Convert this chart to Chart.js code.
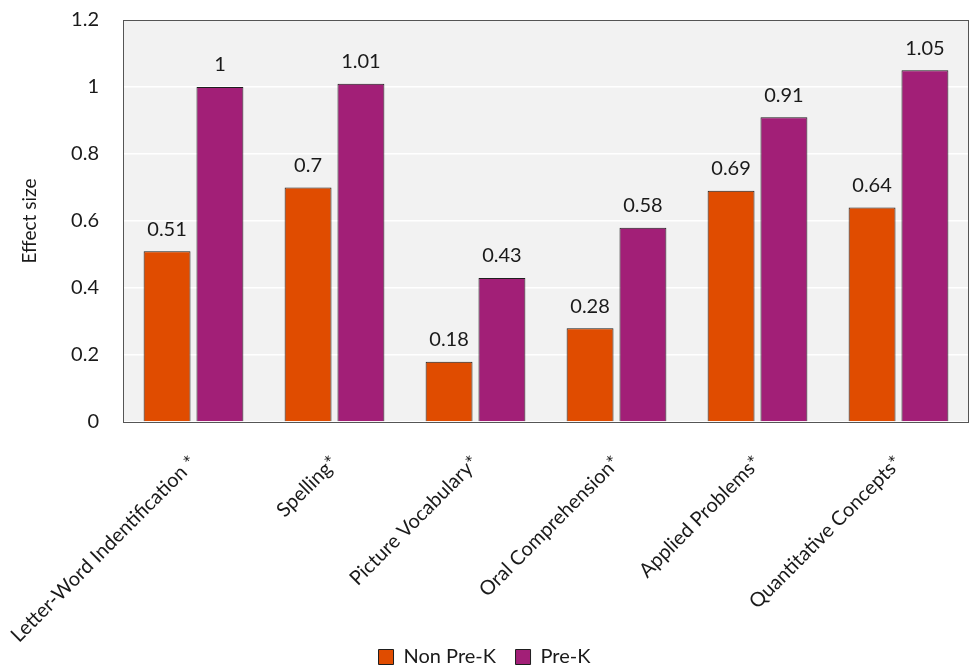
<!DOCTYPE html>
<html>
<head>
<meta charset="utf-8">
<script src="https://cdn.jsdelivr.net/npm/chart.js@4.4.0/dist/chart.umd.min.js"></script>
<style>
  html, body { margin: 0; padding: 0; background: #fff; }
  #wrap { width: 971px; height: 669px; }
</style>
</head>
<body>
<div id="wrap"><canvas id="chart" width="971" height="669"></canvas></div>
<script>
const categories = ["Letter-Word Indentification *", "Spelling*", "Picture Vocabulary*", "Oral Comprehension*", "Applied Problems*", "Quantitative Concepts*"];
const nonPreK = [0.51, 0.7, 0.18, 0.28, 0.69, 0.64];
const preK = [1, 1.01, 0.43, 0.58, 0.91, 1.05];
const yTicks = [0, 0.2, 0.4, 0.6, 0.8, 1, 1.2];

const FONT = "Lato, 'Open Sans', sans-serif";
const TEXT = "#1a1a1a";

// grey plot background + frame
const plotBg = {
    id: "plotBg",
    beforeDraw(chart) {
        const { ctx, chartArea: a } = chart;
        ctx.save();
        ctx.fillStyle = "#f2f2f2";
        ctx.fillRect(a.left, a.top, a.right - a.left, a.bottom - a.top);
        ctx.restore();
    },
    afterDraw(chart) {
        const { ctx, chartArea: a } = chart;
        ctx.save();
        ctx.strokeStyle = "#555";
        ctx.lineWidth = 1;
        ctx.strokeRect(Math.round(a.left) + 0.5, Math.round(a.top) + 0.5, Math.round(a.right - a.left) - 1, Math.round(a.bottom - a.top));
        ctx.restore();
    }
};

// value labels above bars
const barLabels = {
    id: "barLabels",
    afterDatasetsDraw(chart) {
        const ctx = chart.ctx;
        ctx.save();
        ctx.font = "20px " + FONT;
        ctx.fillStyle = TEXT;
        ctx.textAlign = "center";
        ctx.textBaseline = "bottom";
        chart.data.datasets.forEach((ds, i) => {
            chart.getDatasetMeta(i).data.forEach((bar, j) => {
                ctx.fillText(String(ds.data[j]), bar.x, bar.y - 12);
            });
        });
        ctx.restore();
    }
};

new Chart(document.getElementById("chart"), {
    type: "bar",
    data: {
        labels: categories,
        datasets: [
            { label: "Non Pre-K", data: nonPreK, backgroundColor: "#e04c00", borderColor: "#1e1e1e", borderWidth: 1 },
            { label: "Pre-K", data: preK, backgroundColor: "#a21f77", borderColor: "#1e1e1e", borderWidth: 1 }
        ]
    },
    options: {
        responsive: false,
        animation: false,
        categoryPercentage: 0.75,
        barPercentage: 0.887,
        layout: { padding: { top: 20, right: 2, left: 0, bottom: -8 } },
        plugins: {
            legend: {
                position: "bottom",
                labels: {
                    font: { family: FONT, size: 20 },
                    color: TEXT,
                    boxWidth: 15,
                    boxHeight: 15,
                    padding: 2,
                    // extra room between the two entries
                    generateLabels(chart) {
                        const items = Chart.defaults.plugins.legend.labels.generateLabels(chart);
                        items.forEach((it, i) => { if (i < items.length - 1) it.text += "\u2003\u2009"; });
                        return items;
                    }
                }
            },
            tooltip: { enabled: false }
        },
        scales: {
            x: {
                grid: { display: false },
                border: { display: false },
                afterFit(axis) {
                    axis.paddingLeft = 0;
                    axis.paddingRight = 0;
                    axis.height = 223;
                },
                ticks: {
                    font: { family: FONT, size: 20 },
                    color: TEXT,
                    minRotation: 45,
                    maxRotation: 45,
                    autoSkip: false,
                    padding: 21
                }
            },
            y: {
                min: 0,
                max: 1.2,
                afterBuildTicks(axis) { axis.ticks = yTicks.map(v => ({ value: v })); },
                afterFit(axis) {
                    axis.width = 123;
                    axis.paddingTop = 0;
                    axis.paddingBottom = 0;
                },
                grid: { color: "#ffffff", lineWidth: 1.5, drawTicks: false },
                border: { display: false },
                ticks: {
                    font: { family: FONT, size: 20 },
                    color: TEXT,
                    padding: 24,
                    callback: (v) => String(Math.round(v * 10) / 10)
                },
                title: {
                    display: true,
                    text: "Effect size",
                    font: { family: FONT, size: 19 },
                    color: TEXT,
                    padding: { top: 18, bottom: 0 }
                }
            }
        }
    },
    plugins: [plotBg, barLabels]
});
</script>
</body>
</html>
